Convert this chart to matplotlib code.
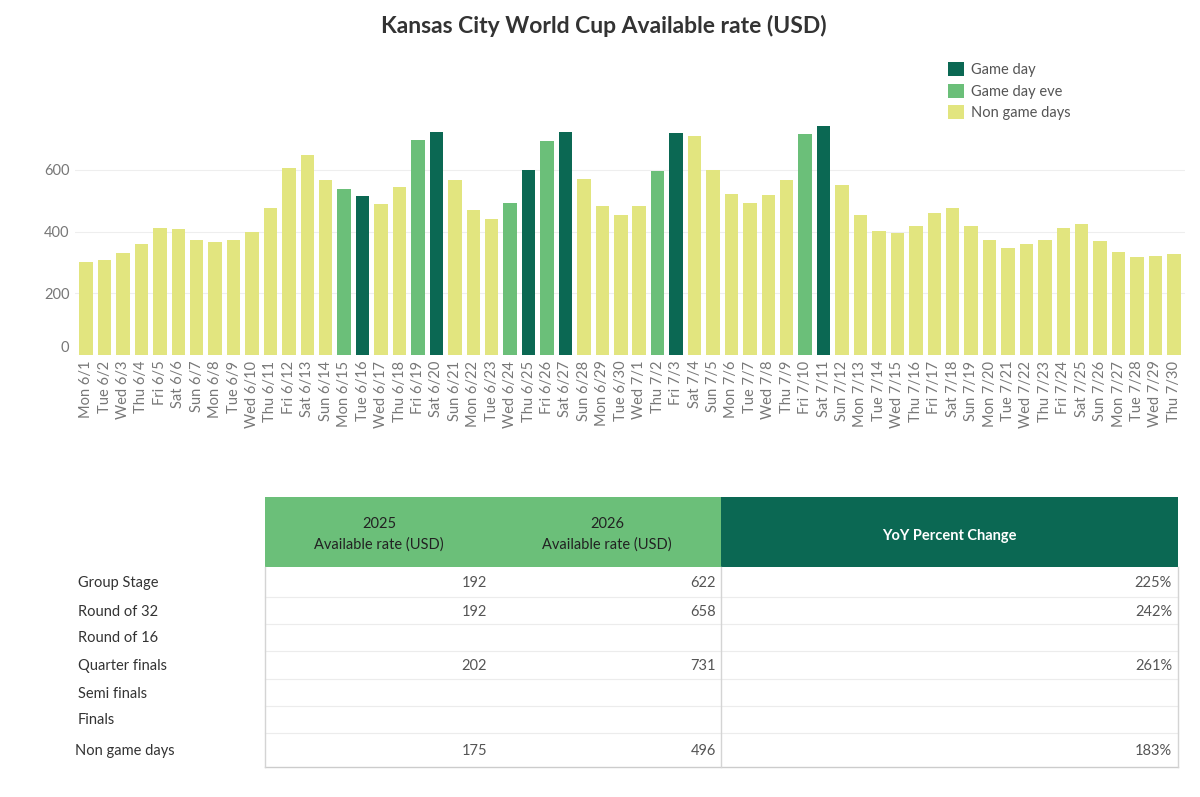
import matplotlib.pyplot as plt
from matplotlib.patches import Patch, Rectangle

# ======================================
# DATA
# ======================================

days = [
    "Mon 6/1", "Tue 6/2", "Wed 6/3", "Thu 6/4", "Fri 6/5", "Sat 6/6", "Sun 6/7",
    "Mon 6/8", "Tue 6/9", "Wed 6/10", "Thu 6/11", "Fri 6/12", "Sat 6/13", "Sun 6/14",
    "Mon 6/15", "Tue 6/16", "Wed 6/17", "Thu 6/18", "Fri 6/19", "Sat 6/20", "Sun 6/21",
    "Mon 6/22", "Tue 6/23", "Wed 6/24", "Thu 6/25", "Fri 6/26", "Sat 6/27", "Sun 6/28",
    "Mon 6/29", "Tue 6/30", "Wed 7/1", "Thu 7/2", "Fri 7/3", "Sat 7/4", "Sun 7/5",
    "Mon 7/6", "Tue 7/7", "Wed 7/8", "Thu 7/9", "Fri 7/10", "Sat 7/11", "Sun 7/12",
    "Mon 7/13", "Tue 7/14", "Wed 7/15", "Thu 7/16", "Fri 7/17", "Sat 7/18", "Sun 7/19",
    "Mon 7/20", "Tue 7/21", "Wed 7/22", "Thu 7/23", "Fri 7/24", "Sat 7/25", "Sun 7/26",
    "Mon 7/27", "Tue 7/28", "Wed 7/29", "Thu 7/30",
]

rates = [
    302, 308, 330, 359, 411, 407, 373, 365, 373, 400, 477, 607, 648, 567,
    537, 515, 488, 544, 697, 723, 567, 470, 440, 492, 600, 694, 723, 571,
    484, 455, 484, 596, 719, 711, 600, 522, 492, 518, 567, 715, 742, 551,
    454, 403, 394, 418, 461, 477, 418, 373, 348, 359, 373, 411, 425, 370,
    335, 318, 321, 328,
]

# G = game day, E = game day eve, N = non game day
day_type = (
    "NNNNNNNNNNNNNN"
    "EGNNEG"
    "NNNEGEG"
    "NNNNEG"
    "NNNNNNEG"
    "NNNNNNNNNNNNNNNNNNN"
)

type_colors = {"G": "#0b6853", "E": "#6bbf79", "N": "#e2e57f"}
type_names = {"G": "Game day", "E": "Game day eve", "N": "Non game days"}

rounds = ["Group Stage", "Round of 32", "Round of 16", "Quarter finals",
          "Semi finals", "Finals", "Non game days"]
rate_2025 = [192, 192, None, 202, None, None, 175]
rate_2026 = [622, 658, None, 731, None, None, 496]
yoy_change = [225, 242, None, 261, None, None, 183]

# ======================================
# FIGURE
# ======================================

plt.rcParams['font.family'] = ['Lato', 'DejaVu Sans']

fig = plt.figure(figsize=(12, 7.97), dpi=100)
W, H = 1200, 797

fig.text(0.503, 1 - 26 / H, "Kansas City World Cup Available rate (USD)",
         ha='center', va='center', fontsize=16.5, fontweight='bold', color='#333333')

# ======================================
# BAR CHART
# ======================================

ax = fig.add_axes([75 / W, 1 - 355 / H, 1110 / W, 233 / H])
x = list(range(len(days)))
colors = [type_colors[t] for t in day_type]
ax.bar(x, rates, width=0.73, color=colors, zorder=2)

ax.set_xlim(-0.6, len(days) - 0.4)
ax.set_ylim(0, 755)
ax.set_yticks([0, 200, 400, 600])
ax.set_yticklabels(["0", "200", "400", "600"])
ax.set_xticks(x)
ax.set_xticklabels(days, rotation=90, fontsize=10.5, color='#777777')
ax.tick_params(axis='both', length=0, pad=4, labelsize=10.5, labelcolor='#777777')
for lbl in ax.get_yticklabels():
    if lbl.get_text() == "0":
        lbl.set_verticalalignment('bottom')
ax.grid(axis='y', color='#eeeeee', linewidth=0.8, zorder=0)
for s in ax.spines.values():
    s.set_visible(False)

handles = [Patch(facecolor=type_colors[k], edgecolor='none', label=type_names[k])
           for k in ["G", "E", "N"]]
fig.legend(handles=handles, loc='upper left', bbox_to_anchor=(935 / W, 1 - 49 / H),
           frameon=False, fontsize=10.5, handlelength=1.1, handleheight=1.1,
           handletextpad=0.5, labelspacing=0.45, labelcolor='#555555')

# ======================================
# TABLE
# ======================================

tx = fig.add_axes([0, 0, 1, 1], zorder=-1)
tx.set_xlim(0, W)
tx.set_ylim(H, 0)
tx.axis('off')

col_edges = [265, 493, 721, 1178]
header_top, header_bot = 497, 567
row_edges = [567, 597, 624, 651, 679, 706, 733, 767]

tx.add_patch(Rectangle((col_edges[0], header_top), col_edges[2] - col_edges[0],
                       header_bot - header_top, color=type_colors["E"], lw=0))
tx.add_patch(Rectangle((col_edges[2], header_top), col_edges[3] - col_edges[2],
                       header_bot - header_top, color=type_colors["G"], lw=0))

for i, yr in enumerate(["2025", "2026"]):
    cx = (col_edges[i] + col_edges[i + 1]) / 2
    tx.text(cx, 524, yr, ha='center', va='center', fontsize=10.5, color='#222222')
    tx.text(cx, 545, "Available rate (USD)", ha='center', va='center',
            fontsize=10.5, color='#222222')
tx.text((col_edges[2] + col_edges[3]) / 2, 536, "YoY Percent Change", ha='center',
        va='center', fontsize=10.5, fontweight='bold', color='#ffffff')

for y in row_edges[1:-1]:
    tx.plot([col_edges[0], col_edges[3]], [y, y], color='#ececec', lw=0.8)
tx.plot([col_edges[0], col_edges[3]], [row_edges[-1]] * 2, color='#cccccc', lw=1)
for cxe in [col_edges[0], col_edges[2], col_edges[3]]:
    tx.plot([cxe, cxe], [row_edges[0], row_edges[-1]], color='#d4d4d4', lw=1)

for i, name in enumerate(rounds):
    cy = (row_edges[i] + row_edges[i + 1]) / 2 + 1
    tx.text(78 if i < len(rounds) - 1 else 75, cy, name, ha='left', va='center',
            fontsize=10.5, color='#333333')
    if rate_2025[i] is not None:
        tx.text(487, cy, f"{rate_2025[i]}", ha='right', va='center',
                fontsize=10.5, color='#555555')
        tx.text(716, cy, f"{rate_2026[i]}", ha='right', va='center',
                fontsize=10.5, color='#555555')
        tx.text(1172, cy, f"{yoy_change[i]}%", ha='right', va='center',
                fontsize=10.5, color='#555555')

fig.savefig("out.png", dpi=100)
